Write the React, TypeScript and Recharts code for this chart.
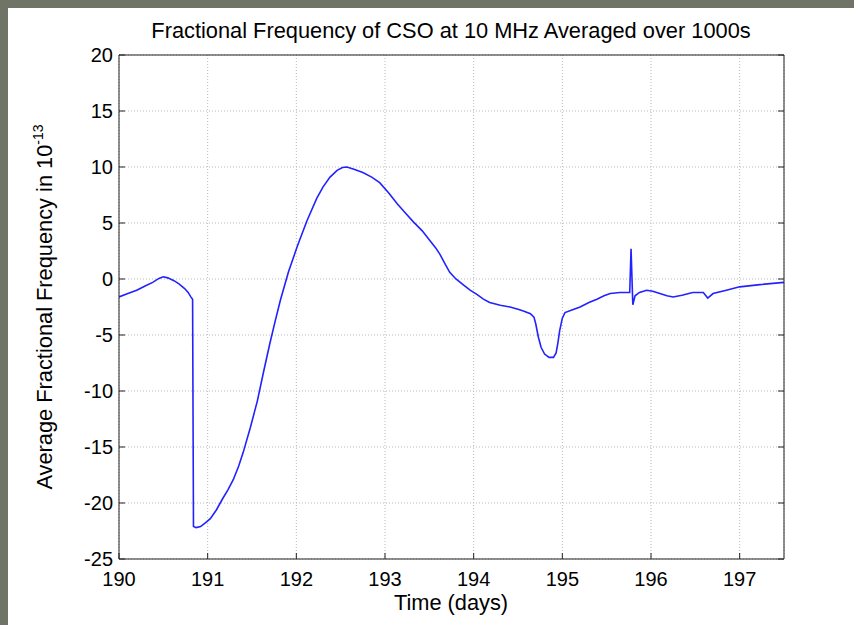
import { CartesianGrid, Line, LineChart, XAxis, YAxis } from 'recharts'

// time in days and fractional frequency (x 1e-13)
const days = [
  190.0, 190.1, 190.2, 190.3, 190.38, 190.45, 190.5, 190.55, 190.62, 190.68, 190.74, 190.78, 190.81, 190.83,
  190.84, 190.87, 190.92, 190.97, 191.03, 191.1, 191.17, 191.23, 191.29, 191.35, 191.4, 191.48, 191.56,
  191.63, 191.7, 191.76, 191.82, 191.91, 192.01, 192.12, 192.23, 192.3, 192.38, 192.46, 192.52, 192.57,
  192.65, 192.75, 192.85, 192.94, 193.04, 193.14, 193.23, 193.32, 193.42, 193.51, 193.57, 193.62, 193.68,
  193.73, 193.8, 193.88, 193.96, 194.04, 194.11, 194.18, 194.3, 194.41, 194.5, 194.56, 194.64, 194.68,
  194.7, 194.73, 194.76, 194.8, 194.85, 194.9, 194.93, 194.95, 194.97, 195.0, 195.03, 195.1, 195.2,
  195.3, 195.39, 195.47, 195.54, 195.65, 195.76, 195.775, 195.795, 195.82, 195.87, 195.95, 196.02, 196.1,
  196.18, 196.25, 196.35, 196.47, 196.59, 196.64, 196.7, 196.85, 197.0, 197.23, 197.5,
]
const freq = [
  -1.6, -1.3, -1.0, -0.6, -0.3, 0.05, 0.2, 0.1, -0.15, -0.45, -0.85, -1.2, -1.6, -1.8,
  -22.1, -22.2, -22.1, -21.8, -21.4, -20.6, -19.6, -18.8, -17.9, -16.7, -15.5, -13.3, -10.9,
  -8.3, -5.8, -3.8, -1.9, 0.6, 2.9, 5.2, 7.2, 8.2, 9.1, 9.7, 9.95, 10.0,
  9.8, 9.5, 9.1, 8.6, 7.7, 6.7, 5.9, 5.1, 4.3, 3.4, 2.8, 2.2, 1.3,
  0.6, 0.0, -0.5, -1.0, -1.4, -1.8, -2.1, -2.35, -2.5, -2.7, -2.85, -3.1, -3.4,
  -4.0, -5.2, -6.1, -6.7, -7.0, -7.0, -6.6, -5.7, -4.6, -3.5, -3.0, -2.8, -2.5,
  -2.1, -1.8, -1.5, -1.3, -1.2, -1.2, 2.7, -2.3, -1.5, -1.2, -1.0, -1.1, -1.3,
  -1.5, -1.6, -1.45, -1.2, -1.2, -1.7, -1.3, -1.0, -0.7, -0.5, -0.3,
]
const xTicks = [190, 191, 192, 193, 194, 195, 196, 197]
const yTicks = [-25, -20, -15, -10, -5, 0, 5, 10, 15, 20]

const data = days.map((d, i) => ({ t: d, f: freq[i] }))

const FONT = '"Liberation Sans", Arial, Helvetica, sans-serif'
const tickStyle = { fill: '#000', fontSize: 20, fontFamily: FONT }

function YLabel() {
  return (
    <text
      x={0}
      y={0}
      transform="translate(52, 307) rotate(-90)"
      textAnchor="middle"
      fontFamily={FONT}
      fontSize={21.8}
      fill="#000"
    >
      Average Fractional Frequency in 10
      <tspan fontSize={14} dy={-9}>-13</tspan>
    </text>
  )
}

export default function App() {
  return (
    <div style={{ position: 'absolute', left: 0, top: 0, width: 854, height: 625, background: '#6f7466' }}>
      <div style={{ position: 'absolute', left: 8, top: 8, width: 846, height: 617, background: '#fff' }} />
      <div style={{ position: 'absolute', left: 0, top: 0 }}>
        <LineChart width={854} height={625} data={data} margin={{ top: 45, right: 60, bottom: 26, left: 69 }}>
          <CartesianGrid stroke="#b8b8b8" strokeDasharray="1 2" />
          <XAxis
            dataKey="t" type="number" domain={[190, 197.5]} ticks={xTicks} allowDataOverflow
            height={40} tickSize={-6} tickMargin={19} tick={tickStyle}
            axisLine={{ stroke: '#222' }} tickLine={{ stroke: '#222' }}
          />
          <XAxis
            xAxisId="top" orientation="top" type="number" domain={[190, 197.5]} ticks={xTicks} allowDataOverflow
            height={10} tickSize={-6} tickFormatter={() => ''}
            axisLine={{ stroke: '#222' }} tickLine={{ stroke: '#222' }}
          />
          <YAxis
            type="number" domain={[-25, 20]} ticks={yTicks} allowDataOverflow
            width={50} tickSize={-6} tickMargin={12} tick={tickStyle}
            axisLine={{ stroke: '#222' }} tickLine={{ stroke: '#222' }}
          />
          <YAxis
            yAxisId="right" orientation="right" type="number" domain={[-25, 20]} ticks={yTicks} allowDataOverflow
            width={10} tickSize={-6} tickFormatter={() => ''}
            axisLine={{ stroke: '#222' }} tickLine={{ stroke: '#222' }}
          />
          <Line dataKey="f" type="linear" stroke="#2222ff" strokeWidth={1.6} dot={false} isAnimationActive={false} />
          <text x={451} y={38} textAnchor="middle" fontFamily={FONT} fontSize={21.8} fill="#000">
            Fractional Frequency of CSO at 10 MHz Averaged over 1000s
          </text>
          <text x={451} y={610} textAnchor="middle" fontFamily={FONT} fontSize={21.8} fill="#000">
            Time (days)
          </text>
          <YLabel />
        </LineChart>
      </div>
    </div>
  )
}
